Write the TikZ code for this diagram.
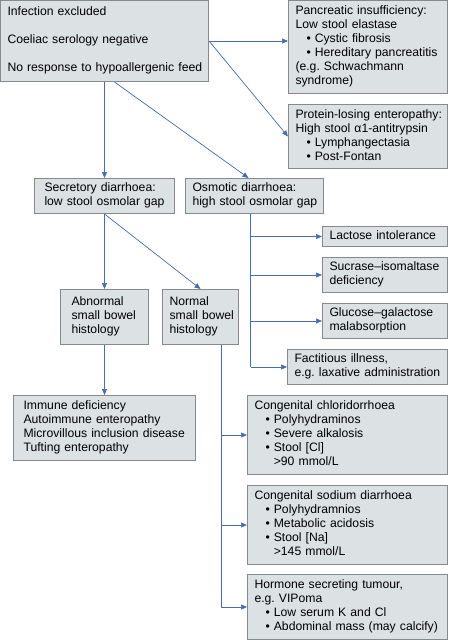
\documentclass[tikz,border=0pt]{standalone}
\usepackage{fontspec}
\setmainfont{Liberation Sans}
\usetikzlibrary{arrows.meta}
\definecolor{boxfill}{RGB}{220, 225, 228}
\definecolor{boxline}{RGB}{135, 138, 140}
\definecolor{arrowblue}{RGB}{72, 108, 172}
\newcommand{\bul}{\hspace*{11pt}\textbullet\ }
\newcommand{\cont}{\hspace*{11pt}\phantom{\textbullet\ }}
\newcommand{\boxlines}[1]{\begin{tabular}{@{}l@{}}#1\end{tabular}}
\frenchspacing

\begin{document}
\begin{tikzpicture}[x=1pt, y=-1pt,
    box/.style={draw=boxline, fill=boxfill, line width=1pt, anchor=north west,
        align=left, inner xsep=7pt, inner ysep=0pt,
        font=\fontsize{12.2}{14}\selectfont},
    arr/.style={-{Triangle[length=6pt, width=5pt]}, draw=arrowblue, line width=0.7pt}]
    \useasboundingbox (0,0) rectangle (448,640);

    % Top row
    \node[box, text width=194pt, minimum height=81pt] (inf) at (0,0)
        {\boxlines{Infection excluded\\[14pt]Coeliac serology negative\\[14pt]No response to hypoallergenic feed}};
    \node[box, text width=145pt, minimum height=93pt] (panc) at (288,0)
        {\boxlines{Pancreatic insufficiency:\\Low stool elastase\\\bul Cystic fibrosis\\\bul Hereditary pancreatitis\\(e.g. Schwachmann\\syndrome)}};
    \node[box, text width=145pt, minimum height=64pt] (prot) at (288,104)
        {\boxlines{Protein-losing enteropathy:\\High stool α1-antitrypsin\\\bul Lymphangectasia\\\bul Post-Fontan}};

    % Secretory / osmotic
    \node[box, inner xsep=10pt, text width=120pt, minimum height=35pt] (sec) at (34,178)
        {\boxlines{Secretory diarrhoea:\\low stool osmolar gap}};
    \node[box, text width=124pt, minimum height=35pt] (osm) at (185,178)
        {\boxlines{Osmotic diarrhoea:\\high stool osmolar gap}};

    % Osmotic causes
    \node[box, text width=111pt, minimum height=20pt] (lact) at (322,226) {\boxlines{Lactose intolerance}};
    \node[box, text width=111pt, minimum height=35pt] (sucr) at (322,257) {\boxlines{Sucrase--isomaltase\\deficiency}};
    \node[box, text width=111pt, minimum height=35pt] (gluc) at (322,303) {\boxlines{Glucose--galactose\\malabsorption}};
    \node[box, text width=146pt, minimum height=35pt] (fact) at (287,349) {\boxlines{Factitious illness,\\e.g. laxative administration}};

    % Histology
    \node[box, inner xsep=11pt, text width=66pt, minimum height=55pt] (abn) at (60,289)
        {\boxlines{Abnormal\\small bowel\\histology}};
    \node[box, text width=62pt, minimum height=55pt] (norm) at (162,289)
        {\boxlines{Normal\\small bowel\\histology}};
    \node[box, inner xsep=10pt, text width=162pt, minimum height=65pt] (imm) at (13,395)
        {\boxlines{Immune deficiency\\Autoimmune enteropathy\\Microvillous inclusion disease\\Tufting enteropathy}};

    % Secretory causes with normal histology
    \node[box, text width=186pt, minimum height=79pt] (chl) at (247,395)
        {\boxlines{Congenital chloridorrhoea\\\bul Polyhydraminos\\\bul Severe alkalosis\\\bul Stool [Cl]\\\cont >90 mmol/L}};
    \node[box, text width=186pt, minimum height=79pt] (sod) at (247,485)
        {\boxlines{Congenital sodium diarrhoea\\\bul Polyhydramnios\\\bul Metabolic acidosis\\\bul Stool [Na]\\\cont >145 mmol/L}};
    \node[box, text width=186pt, minimum height=65pt] (horm) at (247,574)
        {\boxlines{Hormone secreting tumour,\\e.g. VIPoma\\\bul Low serum K and Cl\\\bul Abdominal mass (may calcify)}};

    % Connectors
    \draw[arr] (inf.east) -- (inf.east -| panc.west);
    \draw[arr] (inf.east) -- (prot.west);
    \draw[arr] (inf.south) -- (sec.north);
    \draw[arr] ([xshift=10pt]inf.south) -- ([xshift=-6pt]osm.north);
    \draw[arr] (sec.south) -- (abn.north);
    \draw[arr] (sec.south) -- (norm.north);
    \draw[arr] (abn.south) -- (imm.north);

    \coordinate (ospine) at ([xshift=-4pt]osm.south);
    \draw[arrowblue, line width=0.7pt] (ospine) -- (ospine |- fact.west);
    \foreach \n in {lact, sucr, gluc, fact}
        \draw[arr] (ospine |- \n.west) -- (\n.west);

    \coordinate (nspine) at ([xshift=-18pt]norm.south east);
    \draw[arrowblue, line width=0.7pt] (nspine) -- (nspine |- horm.west);
    \foreach \n in {chl, sod, horm}
        \draw[arr] (nspine |- \n.west) -- (\n.west);
\end{tikzpicture}
\end{document}
